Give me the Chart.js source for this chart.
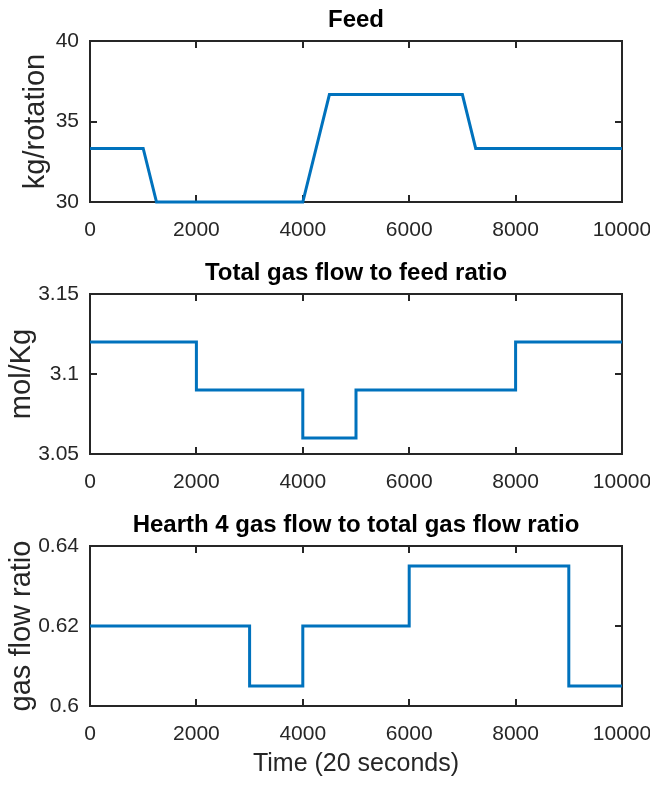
<!DOCTYPE html>
<html><head><meta charset="utf-8">
<script src="https://cdn.jsdelivr.net/npm/chart.js@4/dist/chart.umd.min.js"></script>
<style>
html,body{margin:0;padding:0;background:#fff;}
#wrap{position:relative;width:650px;height:789px;overflow:hidden;}
canvas{position:absolute;left:0;}
</style></head><body>
<div id="wrap">
<canvas id="c1" width="650" height="253" style="top:0px"></canvas>
<canvas id="c2" width="650" height="253" style="top:253px"></canvas>
<canvas id="c3" width="650" height="284" style="top:505px"></canvas>
</div>
<script>
// ---- data ----
const xTicks = [0, 2000, 4000, 6000, 8000, 10000];

const feedTitle = 'Feed';
const feedYLabel = 'kg/rotation';
const feedX = [0, 1000, 1250, 4000, 4500, 7000, 7250, 10000];
const feedY = [33.33, 33.33, 30, 30, 36.67, 36.67, 33.33, 33.33];
const feedYTicks = [30, 35, 40];

const gasTitle = 'Total gas flow to feed ratio';
const gasYLabel = 'mol/Kg';
const gasX = [0, 2000, 2000, 4000, 4000, 5000, 5000, 8000, 8000, 10000];
const gasY = [3.12, 3.12, 3.09, 3.09, 3.06, 3.06, 3.09, 3.09, 3.12, 3.12];
const gasYTicks = [3.05, 3.1, 3.15];

const h4Title = 'Hearth 4 gas flow to total gas flow ratio';
const h4YLabel = 'gas flow ratio';
const h4X = [0, 3000, 3000, 4000, 4000, 6000, 6000, 9000, 9000, 10000];
const h4Y = [0.62, 0.62, 0.605, 0.605, 0.62, 0.62, 0.635, 0.635, 0.605, 0.605];
const h4YTicks = [0.6, 0.62, 0.64];

const xLabel = 'Time (20 seconds)';

// ---- styling ----
const AX = '#262626';
const LINE = '#0072BD';
const TICKFONT = {family: "'Liberation Sans', Arial, sans-serif", size: 21};
const YLABELFONT = {family: "'Liberation Sans', Arial, sans-serif", size: 29};
const XLABELFONT = {family: "'Liberation Sans', Arial, sans-serif", size: 25};
const TITLEFONT = {family: "'Liberation Sans', Arial, sans-serif", size: 24, weight: 'bold'};

const boxPlugin = {
  id: 'matlabBox',
  beforeDatasetsDraw(chart) {
    const {ctx, chartArea: a, scales: {x, y}} = chart;
    ctx.save();
    ctx.strokeStyle = AX;
    ctx.lineWidth = 2;
    ctx.beginPath();
    x.ticks.forEach(t => {
      const p = Math.round(x.getPixelForValue(t.value));
      ctx.moveTo(p, a.bottom); ctx.lineTo(p, a.bottom - 7);
      ctx.moveTo(p, a.top); ctx.lineTo(p, a.top + 7);
    });
    y.ticks.forEach(t => {
      const p = Math.round(y.getPixelForValue(t.value));
      ctx.moveTo(a.left, p); ctx.lineTo(a.left + 7, p);
      ctx.moveTo(a.right, p); ctx.lineTo(a.right - 7, p);
    });
    ctx.stroke();
    ctx.strokeRect(a.left, a.top, a.right - a.left, a.bottom - a.top);
    ctx.restore();
  }
};

function makeChart(id, title, xs, ys, yTicks, yLabel, yLabelPad, showX, xHeight) {
  const pts = xs.map((v, i) => ({x: v, y: ys[i]}));
  return new Chart(document.getElementById(id), {
    type: 'line',
    data: {datasets: [{data: pts, borderColor: LINE, borderWidth: 3, pointRadius: 0, tension: 0, fill: false, clip: false}]},
    options: {
      responsive: false, animation: false, devicePixelRatio: 1,
      layout: {padding: {left: 0, right: 28, top: 0, bottom: 0}},
      plugins: {
        legend: {display: false}, tooltip: {enabled: false},
        title: {display: true, text: title, color: '#000', font: TITLEFONT, fullSize: false, padding: {top: 6, bottom: 6.2}}
      },
      scales: {
        x: {
          type: 'linear', min: xTicks[0], max: xTicks[xTicks.length - 1],
          grid: {display: false, drawTicks: false}, border: {display: false},
          afterBuildTicks: s => { s.ticks = xTicks.map(v => ({value: v})); },
          afterFit: s => { s.height = xHeight; s.paddingLeft = 0; s.paddingRight = 0; },
          ticks: {color: AX, font: TICKFONT, padding: 16, maxRotation: 0, autoSkip: false, callback: v => String(v)},
          title: {display: showX, text: xLabel, color: AX, font: XLABELFONT, padding: {top: 0, bottom: 10}}
        },
        y: {
          type: 'linear', min: yTicks[0], max: yTicks[yTicks.length - 1],
          grid: {display: false, drawTicks: false}, border: {display: false},
          afterBuildTicks: s => { s.ticks = yTicks.map(v => ({value: v})); },
          afterFit: s => { s.width = 90; s.paddingTop = 0; s.paddingBottom = 0; },
          ticks: {color: AX, font: TICKFONT, padding: 11, callback: v => String(+Number(v).toFixed(4))},
          title: {display: true, text: yLabel, color: AX, font: YLABELFONT, padding: {top: yLabelPad, bottom: 0}}
        }
      }
    },
    plugins: [boxPlugin]
  });
}

makeChart('c1', feedTitle, feedX, feedY, feedYTicks, feedYLabel, 19, false, 51);
makeChart('c2', gasTitle, gasX, gasY, gasYTicks, gasYLabel, 5, false, 52);
makeChart('c3', h4Title, h4X, h4Y, h4YTicks, h4YLabel, 5, true, 83);
</script>
</body></html>
